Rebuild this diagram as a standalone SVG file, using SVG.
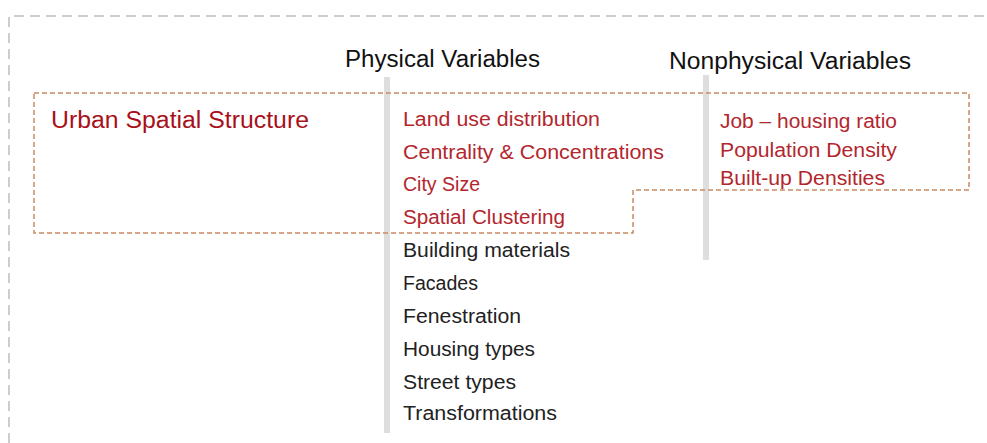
<svg xmlns="http://www.w3.org/2000/svg" width="987" height="443" viewBox="0 0 987 443">
<style>
.t{font-family:"Liberation Sans","Open Sans",sans-serif;}
.h{font-size:23px;fill:#111;}
.r{font-size:20px;fill:#b3262d;}
.k{font-size:20px;fill:#222;}
.u{font-size:23px;fill:#a8101a;}
</style>
<rect width="987" height="443" fill="#fff"/>
<g id="frame">
<path d="M9,443 V16 H990" fill="none" stroke="#bdbdbd" stroke-width="1.5" stroke-dasharray="10,6"/>
</g>
<g id="bars">
<rect x="384" y="77" width="6" height="356" fill="#dedede"/>
<rect x="703" y="75" width="6" height="185" fill="#dedede"/>
</g>
<g id="connectors">
<path d="M34,93 H969 V190 H633 V233 H34 Z" fill="none" stroke="#c98a63" stroke-width="1.5" stroke-dasharray="5,3"/>
</g>
<g id="headers" class="t">
<text class="h" x="345" y="67" textLength="195" lengthAdjust="spacingAndGlyphs">Physical Variables</text>
<text class="h" x="669" y="69" textLength="242" lengthAdjust="spacingAndGlyphs">Nonphysical Variables</text>
</g>
<g id="urban" class="t">
<text class="u" x="51" y="128" textLength="258" lengthAdjust="spacingAndGlyphs">Urban Spatial Structure</text>
</g>
<g id="physical" class="t">
<text class="r" x="403" y="126" textLength="197" lengthAdjust="spacingAndGlyphs">Land use distribution</text>
<text class="r" x="403" y="159" textLength="261" lengthAdjust="spacingAndGlyphs">Centrality &amp; Concentrations</text>
<text class="r" x="403" y="191" textLength="77" lengthAdjust="spacingAndGlyphs">City Size</text>
<text class="r" x="403" y="224" textLength="162" lengthAdjust="spacingAndGlyphs">Spatial Clustering</text>
<text class="k" x="403" y="257" textLength="167" lengthAdjust="spacingAndGlyphs">Building materials</text>
<text class="k" x="403" y="290" textLength="75" lengthAdjust="spacingAndGlyphs">Facades</text>
<text class="k" x="403" y="323" textLength="118" lengthAdjust="spacingAndGlyphs">Fenestration</text>
<text class="k" x="403" y="356" textLength="132" lengthAdjust="spacingAndGlyphs">Housing types</text>
<text class="k" x="403" y="389" textLength="113" lengthAdjust="spacingAndGlyphs">Street types</text>
<text class="k" x="403" y="420" textLength="154" lengthAdjust="spacingAndGlyphs">Transformations</text>
</g>
<g id="nonphysical" class="t">
<text class="r" x="720" y="128" textLength="177" lengthAdjust="spacingAndGlyphs">Job – housing ratio</text>
<text class="r" x="720" y="157" textLength="177" lengthAdjust="spacingAndGlyphs">Population Density</text>
<text class="r" x="720" y="185" textLength="165" lengthAdjust="spacingAndGlyphs">Built-up Densities</text>
</g>
</svg>
